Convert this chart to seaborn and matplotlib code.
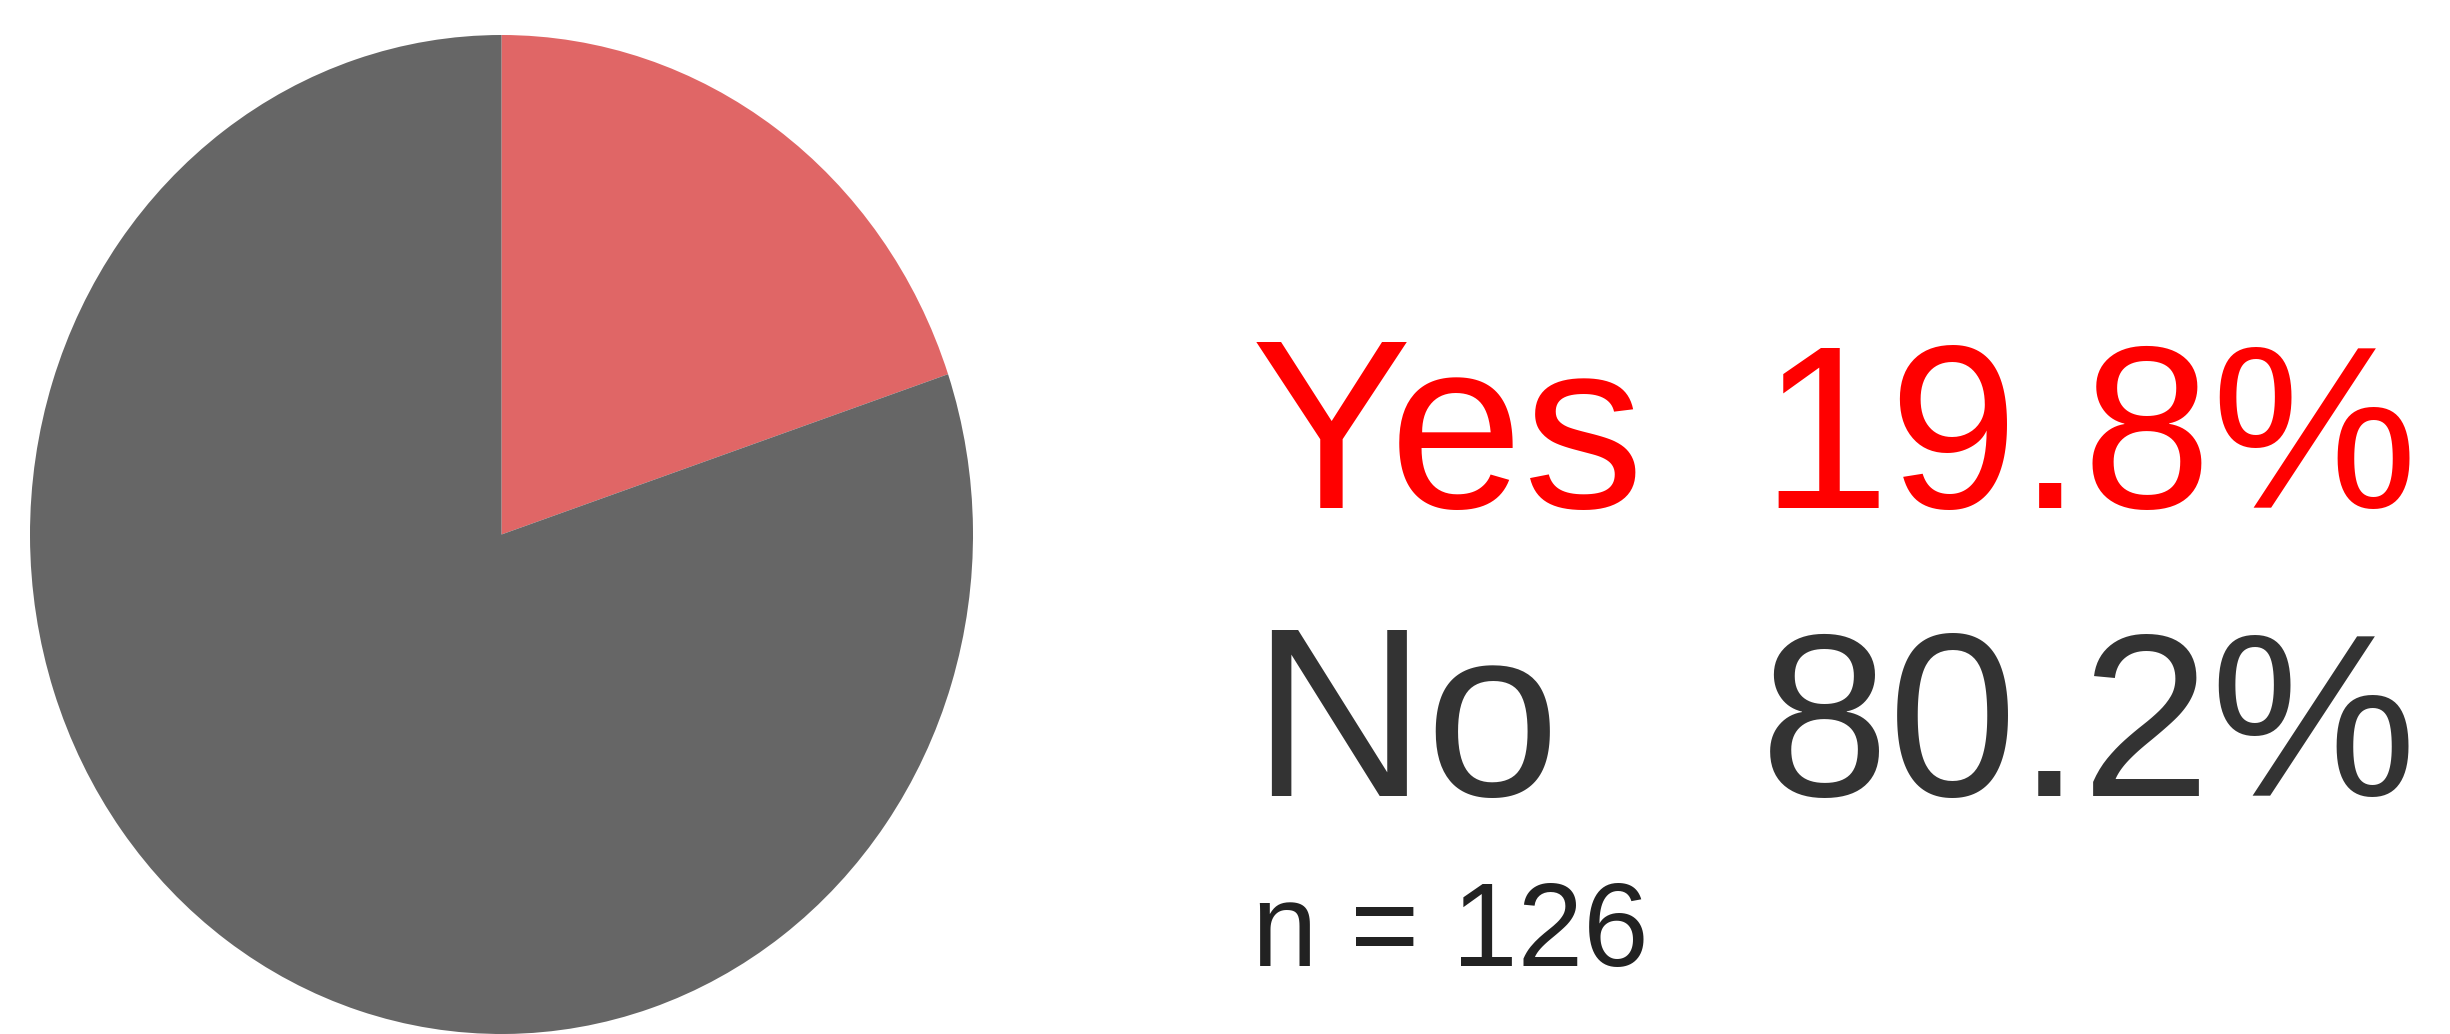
import matplotlib
matplotlib.use("Agg")
import matplotlib.pyplot as plt
import seaborn as sns

# survey answer shares (percent) and sample size
answers = ["Yes", "No"]
shares = [19.8, 80.2]
n_total = 126

wedge_colors = ["#E06666", "#666666"]
text_colors = ["#FF0000", "#333333"]

sns.set_theme(style="white")
plt.rcParams["font.family"] = ["Liberation Sans", "DejaVu Sans"]

W, H = 2450, 1034
fig = plt.figure(figsize=(W / 100, H / 100), dpi=100)
fig.patch.set_facecolor("white")

# pie drawn in its own axes, stretched slightly taller than wide
ax = fig.add_axes([30 / W, 0 / H, 943 / W, 999 / H])
ax.pie(shares, colors=wedge_colors, startangle=90, counterclock=False,
       radius=1, wedgeprops=dict(linewidth=0))
ax.set_xlim(-1, 1)
ax.set_ylim(-1, 1)
ax.set_aspect("auto")
ax.axis("off")

# big labels on the right
baselines = [508, 796]
for label, share, col, base in zip(answers, shares, text_colors, baselines):
    fig.text(1251 / W, 1 - base / H, label, color=col, fontsize=174,
             ha="left", va="baseline")
    fig.text(1760 / W, 1 - base / H, f"{share:.1f}%", color=col, fontsize=167,
             ha="left", va="baseline")

fig.text(1252 / W, 1 - 966 / H, f"n = {n_total}", color="#222222",
         fontsize=85, ha="left", va="baseline")

fig.savefig("out.png", dpi=100, facecolor="white")
